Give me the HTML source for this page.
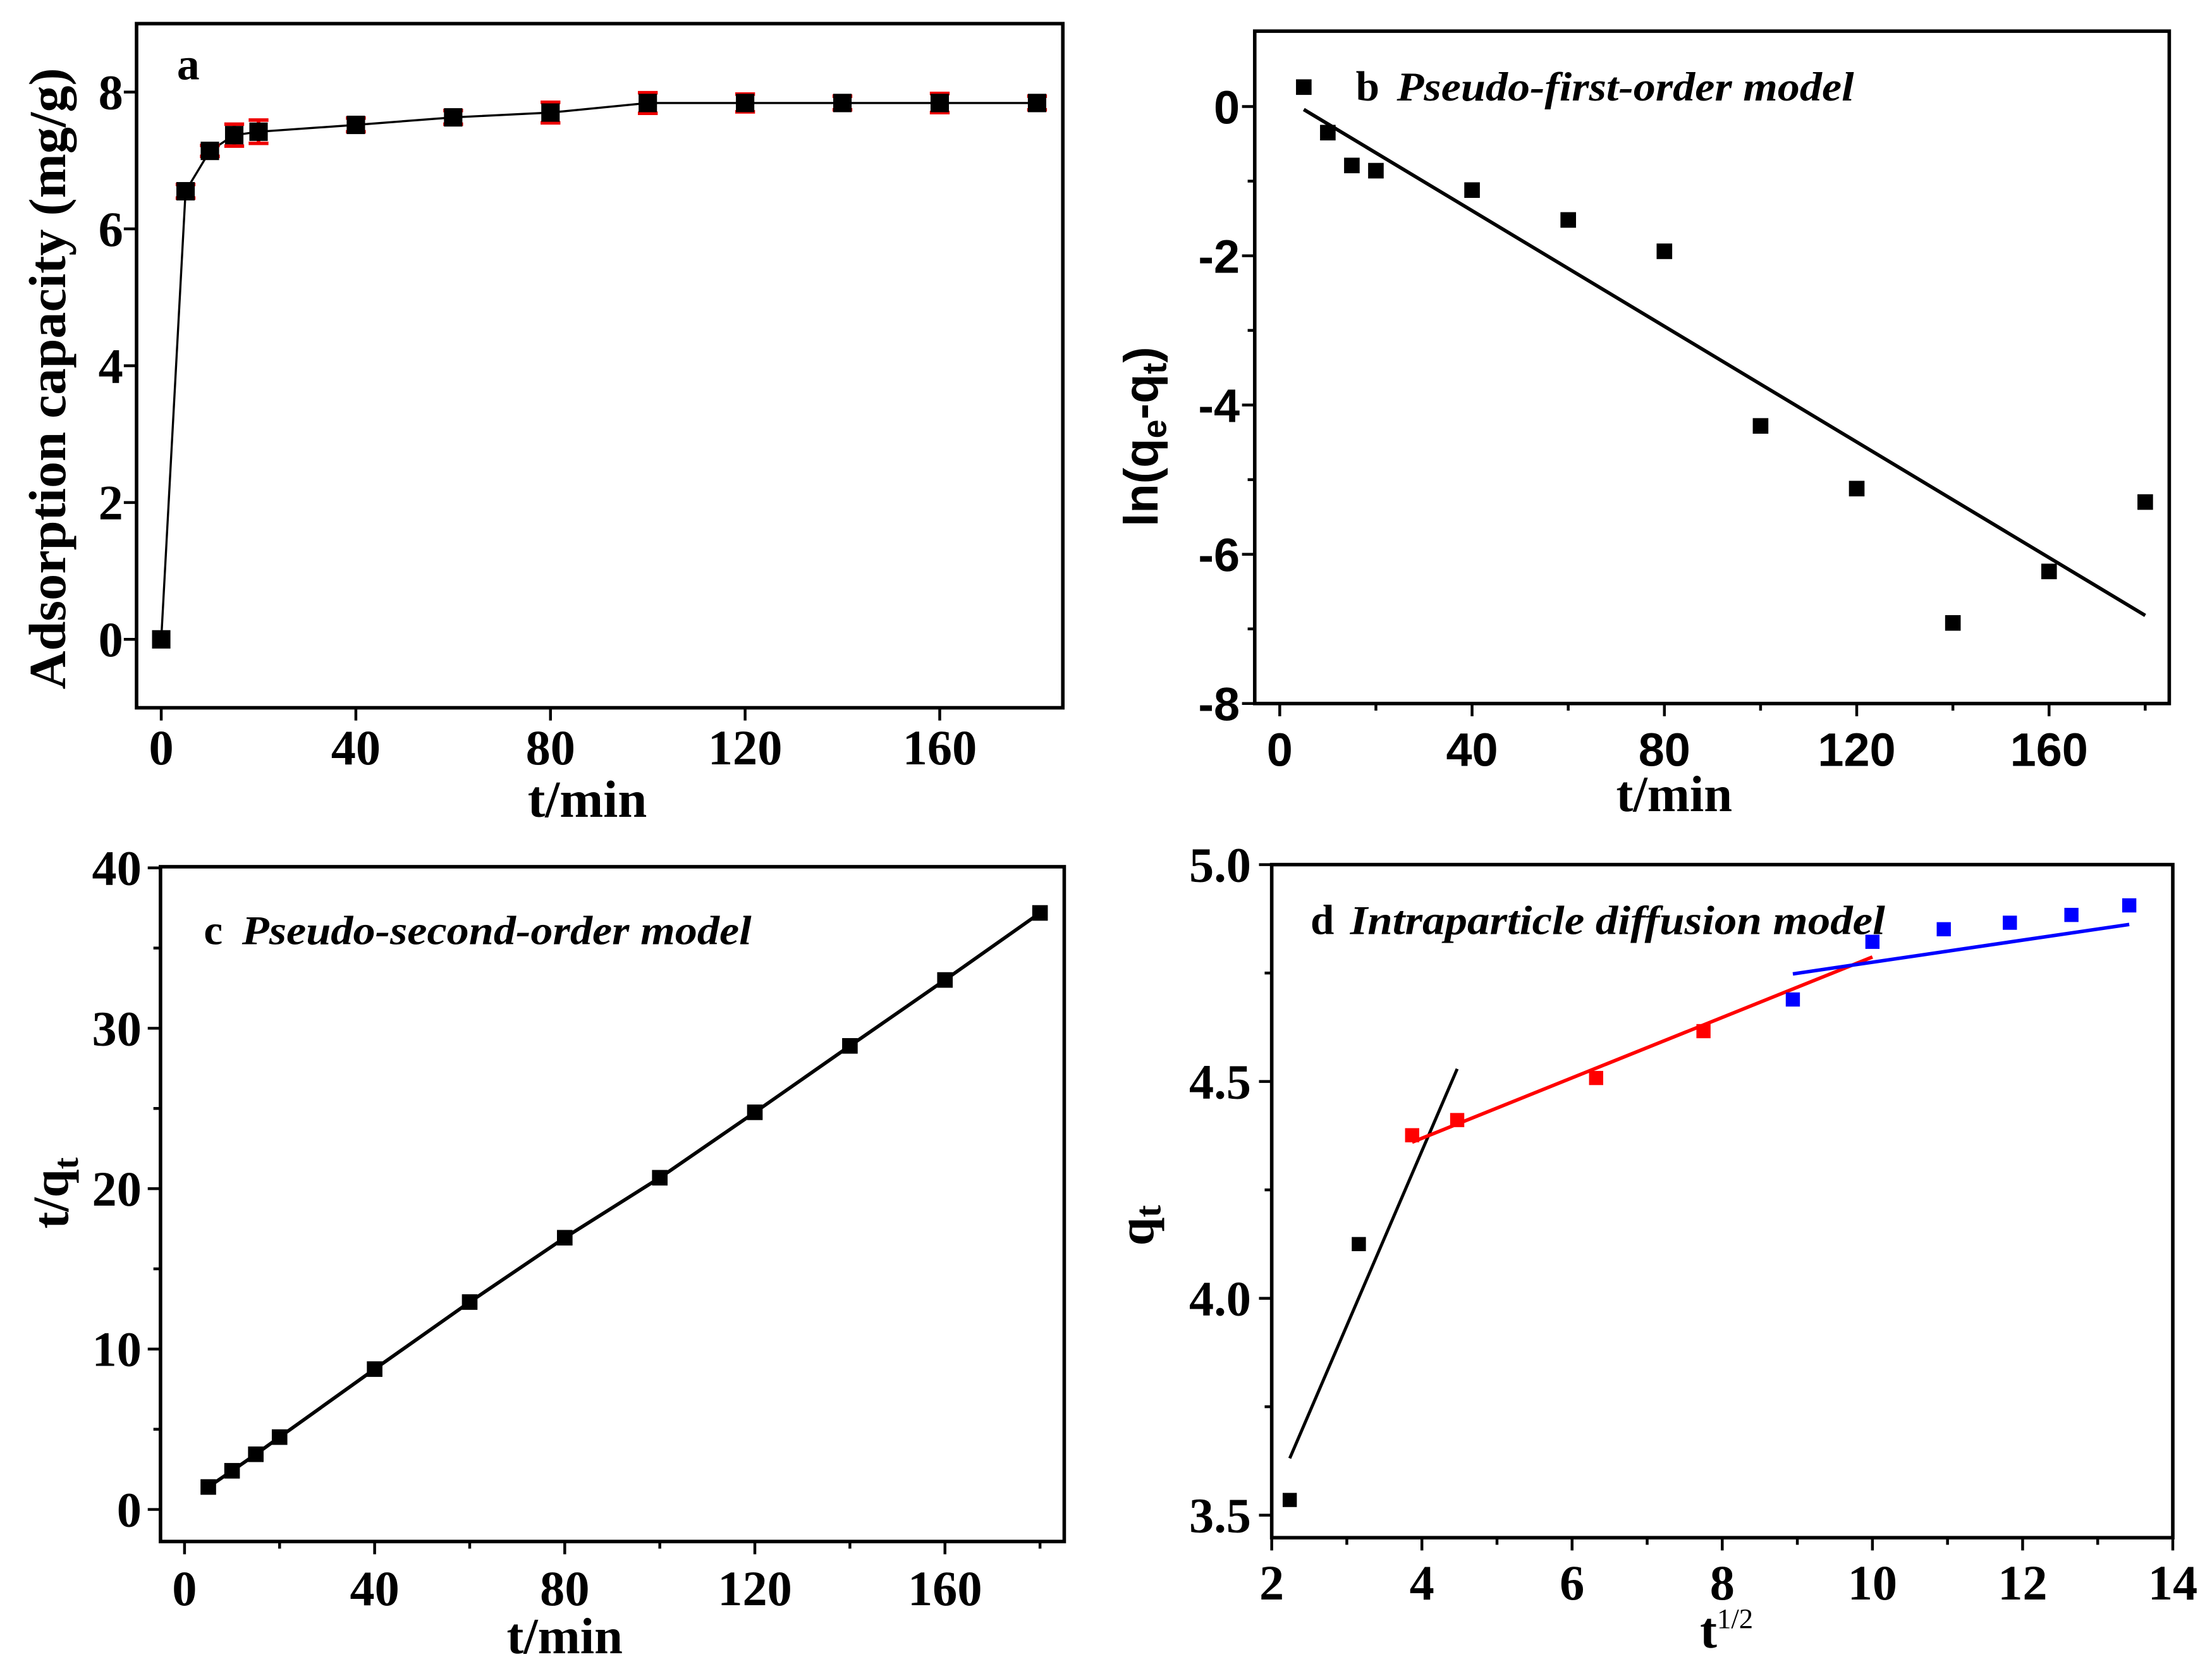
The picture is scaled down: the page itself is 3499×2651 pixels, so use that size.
<!DOCTYPE html>
<html><head><meta charset="utf-8">
<style>
html,body{margin:0;padding:0;background:#fff;}
svg{display:block;}
text{font-family:"Liberation Serif",serif;font-weight:bold;fill:#000;}
.sans{font-family:"Liberation Sans",sans-serif;}
</style></head>
<body>
<svg id="fig" xmlns="http://www.w3.org/2000/svg" width="3499" height="2651" viewBox="0 0 1563 1184" preserveAspectRatio="none">
<rect x="0" y="0" width="1563" height="1184" fill="#fff"/>
</svg>
<script>
// ---- Panel a data ----
const aTimes = [0,5,10,15,20,40,60,80,100,120,140,160,180];
const aCap = [0,6.55,7.14,7.37,7.42,7.52,7.63,7.70,7.84,7.84,7.84,7.84,7.84];
const aErr = [0,0.1,0.08,0.16,0.17,0.1,0.1,0.15,0.15,0.13,0.1,0.14,0.1];
const aXTicks = [0,40,80,120,160];
const aYTicks = [0,2,4,6,8];
// ---- Panel b data ----
const bTimes = [5,10,15,20,40,60,80,100,120,140,160,180];
const bLn = [0.26,-0.35,-0.79,-0.86,-1.12,-1.52,-1.94,-4.28,-5.12,-6.92,-6.23,-5.30];
const bFitX = [5,180];
const bFitY = [-0.04,-6.82];
const bXTicks = [0,40,80,120,160];
const bYTicks = [0,-2,-4,-6,-8];
// ---- Panel c data ----
const cTimes = [5,10,15,20,40,60,80,100,120,140,160,180];
const cRatio = [1.40,2.41,3.44,4.51,8.75,12.93,16.94,20.68,24.76,28.90,33.01,37.19];
const cXTicks = [0,40,80,120,160];
const cYTicks = [0,10,20,30,40];
// ---- Panel d data ----
const dBlackX = [2.24,3.16];
const dBlackY = [3.535,4.125];
const dRedX = [3.87,4.47,6.32,7.75];
const dRedY = [4.376,4.411,4.508,4.616];
const dBlueX = [8.94,10.0,10.95,11.83,12.65,13.42];
const dBlueY = [4.689,4.822,4.851,4.866,4.884,4.906];
const dBlackFitX = [2.24,4.47], dBlackFitY = [3.631,4.529];
const dRedFitX = [3.87,10.0], dRedFitY = [4.36,4.787];
const dBlueFitX = [8.94,13.42], dBlueFitY = [4.748,4.862];
const dXTicks = [2,4,6,8,10,12,14];
const dYTicks = [3.5,4.0,4.5,5.0];

const NS = "http://www.w3.org/2000/svg";
const svg = document.getElementById('fig');
function el(tag, attrs, parent){
  const e = document.createElementNS(NS, tag);
  for (const k in attrs) e.setAttribute(k, attrs[k]);
  (parent||svg).appendChild(e);
  return e;
}
function mkScale(d0,d1,r0,r1){ return v => r0 + (v-d0)/(d1-d0)*(r1-r0); }

function panel(cfg){
  const g = el('g', {});
  
  
  const x = mkScale(cfg.xd[0], cfg.xd[1], cfg.L, cfg.R);
  const y = mkScale(cfg.yd[0], cfg.yd[1], cfg.B, cfg.T);
  const box = el('rect', {x:cfg.L, y:cfg.T, width:cfg.R-cfg.L, height:cfg.B-cfg.T, fill:'none', stroke:'#000', 'stroke-width':2.5}, g);
  
  
  cfg.xTicks.forEach(t => {
    const xp = x(t);
    const tk = el('line', {x1:xp, x2:xp, y1:cfg.B, y2:cfg.B+9, stroke:'#000','stroke-width':2}, g);
    
    
    const lb = el('text', {x:xp, y:cfg.xLabY, 'text-anchor':'middle', 'font-size':cfg.fs}, g);
    if (cfg.sans) lb.setAttribute('class','sans');
    lb.textContent = cfg.xFmt ? cfg.xFmt(t) : t;
    
    
  });
  (cfg.xMinor||[]).forEach(t => {
    const xp = x(t);
    const tk = el('line', {x1:xp, x2:xp, y1:cfg.B, y2:cfg.B+5, stroke:'#000','stroke-width':2}, g);
    
    
  });
  cfg.yTicks.forEach(t => {
    const yp = y(t);
    const tk = el('line', {x1:cfg.L-9, x2:cfg.L, y1:yp, y2:yp, stroke:'#000','stroke-width':2}, g);
    
    
    const lb = el('text', {x:cfg.yLabX, y:yp+12, 'text-anchor':'end', 'font-size':cfg.fs}, g);
    if (cfg.sans) lb.setAttribute('class','sans');
    lb.textContent = cfg.yFmt ? cfg.yFmt(t) : t;
    
    
  });
  (cfg.yMinor||[]).forEach(t => {
    const yp = y(t);
    const tk = el('line', {x1:cfg.L-5, x2:cfg.L, y1:yp, y2:yp, stroke:'#000','stroke-width':2}, g);
    
    
  });
  return {g, x, y};
}
function marker(g, xp, yp, color, s, name){
  const m = el('rect', {x:xp-s/2, y:yp-s/2, width:s, height:s, fill:color}, g);
  
  
}
function line(g, pts, color, w, name){
  const p = el('polyline', {points:pts.map(q=>q.join(',')).join(' '), fill:'none', stroke:color, 'stroke-width':w}, g);
  
  
}
function label(g, txt, attrs, name){
  const t = el('text', attrs, g);
  t.textContent = txt;
  
  
  return t;
}

// ===== Panel a =====
(function(){
  const P = panel({name:'panel-a', L:96.5, R:751, T:16.7, B:500, xd:[-5.07,185.3], yd:[-1,9],
    xTicks:aXTicks, yTicks:aYTicks, xLabY:540, yLabX:87, fs:35});
  const {g,x,y} = P;
  line(g, aTimes.map((t,i)=>[x(t), y(aCap[i])]), '#000', 1.5, 'capacity-line');
  aTimes.forEach((t,i)=>{
    if (aErr[i] > 0) {
      const xp = x(t), y1 = y(aCap[i]+aErr[i]), y2 = y(aCap[i]-aErr[i]);
      const e = el('path', {d:`M${xp},${y1}V${y2}M${xp-7},${y1}H${xp+7}M${xp-7},${y2}H${xp+7}`, stroke:'#e00', 'stroke-width':2.5, fill:'none'}, g);
      
      
    }
    marker(g, x(t), y(aCap[i]), '#000', 13, 'capacity-point');
  });
  label(g, 'a', {x:125, y:56, 'font-size':32}, 'panel-label-a');
  label(g, 't/min', {x:415, y:577, 'text-anchor':'middle', 'font-size':37}, 'x-axis-title');
  label(g, 'Adsorption capacity (mg/g)', {x:0, y:0, 'font-size':37, textLength:439, lengthAdjust:'spacingAndGlyphs', transform:'translate(46,487) rotate(-90)'}, 'y-axis-title');
})();

// ===== Panel b =====
(function(){
  const P = panel({name:'panel-b', L:886.6, R:1532.8, T:22, B:497, xd:[-5.2,185], yd:[-8,1.01],
    xTicks:bXTicks, yTicks:bYTicks, xMinor:[20,60,100,140,180], yMinor:[-1,-3,-5,-7],
    xLabY:541, yLabX:876, fs:33, sans:true});
  const {g,x,y} = P;
  line(g, bFitX.map((t,i)=>[x(t), y(bFitY[i])]), '#000', 2.5, 'first-order-fit-line');
  bTimes.forEach((t,i)=> marker(g, x(t), y(bLn[i]), '#000', 11, 'ln-point'));
  label(g, 'b', {x:958, y:71, 'font-size':30}, 'panel-label-b');
  label(g, 'Pseudo-first-order model', {x:987, y:71, 'font-size':29, 'font-style':'italic', textLength:323, lengthAdjust:'spacingAndGlyphs'}, 'model-title-b');
  label(g, 't/min', {x:1183, y:573, 'text-anchor':'middle', 'font-size':36}, 'x-axis-title');
  const yt = label(g, '', {x:0, y:0, 'font-size':34, class:'sans', transform:'translate(818,372) rotate(-90)'}, 'y-axis-title');
  yt.innerHTML = 'ln(q<tspan font-size="24" dy="6">e</tspan><tspan dy="-6">-q</tspan><tspan font-size="24" dy="6">t</tspan><tspan dy="-6">)</tspan>';
})();

// ===== Panel c =====
(function(){
  const P = panel({name:'panel-c', L:113.4, R:752, T:612.3, B:1089, xd:[-5.06,185.1], yd:[-2,40.07],
    xTicks:cXTicks, yTicks:cYTicks, xMinor:[20,60,100,140,180], yMinor:[5,15,25,35],
    xLabY:1134, yLabX:100, fs:35});
  const {g,x,y} = P;
  line(g, cTimes.map((t,i)=>[x(t), y(cRatio[i])]), '#000', 2.5, 'second-order-line');
  cTimes.forEach((t,i)=> marker(g, x(t), y(cRatio[i]), '#000', 11, 'ratio-point'));
  label(g, 'c', {x:144, y:667, 'font-size':30}, 'panel-label-c');
  label(g, 'Pseudo-second-order model', {x:171, y:667, 'font-size':29, 'font-style':'italic', textLength:360, lengthAdjust:'spacingAndGlyphs'}, 'model-title-c');
  label(g, 't/min', {x:399, y:1168, 'text-anchor':'middle', 'font-size':36}, 'x-axis-title');
  const yt = label(g, '', {x:0, y:0, 'font-size':36, transform:'translate(48,868) rotate(-90)'}, 'y-axis-title');
  yt.innerHTML = 't/q<tspan font-size="25" dy="7">t</tspan>';
})();

// ===== Panel d =====
(function(){
  const P = panel({name:'panel-d', L:898.6, R:1535.3, T:610.8, B:1086.3, xd:[2,14], yd:[3.448,5.0],
    xTicks:dXTicks, yTicks:dYTicks, xMinor:[3,5,7,9,11,13], yMinor:[3.75,4.25,4.75],
    xLabY:1130, yLabX:884, fs:35, yFmt:v=>v.toFixed(1)});
  const {g,x,y} = P;
  line(g, dBlackFitX.map((t,i)=>[x(t), y(dBlackFitY[i])]), '#000', 2.2, 'stage1-fit-line');
  line(g, dRedFitX.map((t,i)=>[x(t), y(dRedFitY[i])]), '#f00', 2.5, 'stage2-fit-line');
  line(g, dBlueFitX.map((t,i)=>[x(t), y(dBlueFitY[i])]), '#00f', 2.5, 'stage3-fit-line');
  dBlackX.forEach((t,i)=> marker(g, x(t), y(dBlackY[i]), '#000', 10, 'stage1-point'));
  dRedX.forEach((t,i)=> marker(g, x(t), y(dRedY[i]), '#f00', 10, 'stage2-point'));
  dBlueX.forEach((t,i)=> marker(g, x(t), y(dBlueY[i]), '#00f', 10, 'stage3-point'));
  label(g, 'd', {x:926, y:660, 'font-size':30}, 'panel-label-d');
  label(g, 'Intraparticle diffusion model', {x:954, y:660, 'font-size':29, 'font-style':'italic', textLength:378, lengthAdjust:'spacingAndGlyphs'}, 'model-title-d');
  const xt = label(g, '', {x:1220, y:1164, 'text-anchor':'middle', 'font-size':36}, 'x-axis-title');
  xt.innerHTML = 't<tspan font-size="20" dy="-14" font-weight="normal">1/2</tspan>';
  const yt = label(g, '', {x:0, y:0, 'font-size':36, transform:'translate(815,880) rotate(-90)'}, 'y-axis-title');
  yt.innerHTML = 'q<tspan font-size="26" dy="5">t</tspan>';
})();
</script>
</body></html>
